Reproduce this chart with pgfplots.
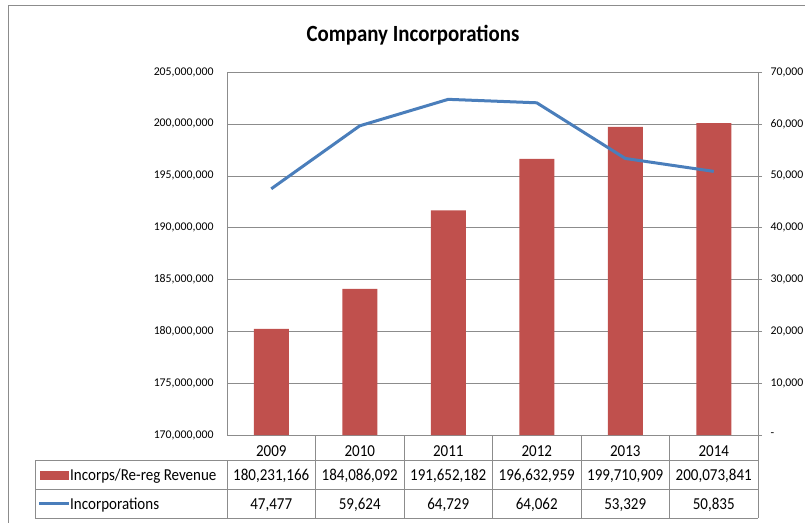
\documentclass[border=0pt]{standalone}
\usepackage{pgfplots}
\pgfplotsset{compat=1.18}
\usepackage{pgfplotstable}
\usepackage{fontspec}
\setmainfont{Carlito}
\newfontfamily\narrowfont[FakeStretch=0.9]{Carlito}

\definecolor{BarRed}{HTML}{C0504D}
\definecolor{LineBlue}{HTML}{4A7EBB}
\definecolor{GridGray}{HTML}{8C8C8C}

% year, revenue (left axis), incorporations (right axis)
\pgfplotstableread{
x year revenue incorps
0 2009 180231166 47477
1 2010 184086092 59624
2 2011 191652182 64729
3 2012 196632959 64062
4 2013 199710909 53329
5 2014 200073841 50835
}\incdata

\newcommand{\tabfont}{\narrowfont\fontsize{16.7}{19}\selectfont}
\newcommand{\tickfont}{\fontsize{11.8}{14}\selectfont}

\begin{document}
\begin{tikzpicture}[x=1pt,y=1pt]
\useasboundingbox (0,0) rectangle (805,-522);
\draw[GridGray] (8,-540) -- (8,-5) -- (840,-5);
\node[anchor=base, font=\narrowfont\bfseries\fontsize{23.2}{26}\selectfont] at (413,-41.7) {Company Incorporations};

\begin{axis}[
  at={(227pt,-435pt)}, anchor=south west,
  scale only axis, width=531pt, height=363pt,
  ybar, bar width=35pt,
  xmin=-0.5, xmax=5.5, ymin=170000000, ymax=205000000,
  axis x line*=bottom, axis y line*=left,
  axis line style={GridGray, -},
  xtick=data, xticklabels={2009,2010,2011,2012,2013,2014},
  x tick style={draw=none},
  xticklabel style={font=\tabfont, anchor=base, yshift=-17pt},
  ytick={170000000,175000000,180000000,185000000,190000000,195000000,200000000,205000000},
  yticklabels={{170,000,000},{175,000,000},{180,000,000},{185,000,000},{190,000,000},{195,000,000},{200,000,000},{205,000,000}},
  scaled y ticks=false,
  y tick style={draw=none},
  yticklabel style={font=\tickfont, anchor=east, xshift=-10pt},
  ymajorgrids, grid style={GridGray},
]
\addplot[fill=BarRed, draw=none] table[x=x, y=revenue]{\incdata};
\end{axis}

\begin{axis}[
  at={(227pt,-435pt)}, anchor=south west,
  scale only axis, width=531pt, height=363pt,
  xmin=-0.5, xmax=5.5, ymin=0, ymax=70000,
  axis x line=none, axis y line*=right,
  axis line style={GridGray, -},
  ytick={0,10000,20000,30000,40000,50000,60000,70000},
  yticklabels={-,{10,000},{20,000},{30,000},{40,000},{50,000},{60,000},{70,000}},
  scaled y ticks=false,
  tick align=outside, major tick length=4pt,
  y tick style={GridGray},
  yticklabel style={font=\tickfont, anchor=west, xshift=5pt},
]
\addplot[LineBlue, line width=3pt, line join=round] table[x=x, y=incorps]{\incdata};
\end{axis}

% data table under the plot
\draw[GridGray] (35,-460.5) -- (758,-460.5);
\draw[GridGray] (35,-489.5) -- (758,-489.5);
\draw[GridGray] (35,-518) -- (758,-518);
\draw[GridGray] (35,-460.5) -- (35,-518);
\draw[GridGray] (227,-460.5) -- (227,-518);
\foreach \k in {1,...,6} \draw[GridGray] (227+88.5*\k,-435) -- (227+88.5*\k,-518);

\fill[BarRed] (40,-470.5) rectangle (69,-479.5);
\draw[LineBlue, line width=3pt] (39,-503.5) -- (69,-503.5);
\node[anchor=base west, inner sep=1pt, font=\tabfont] at (69,-480.7) {Incorps/Re-reg Revenue};
\node[anchor=base west, inner sep=1pt, font=\tabfont] at (69,-509) {Incorporations};

\foreach \v [count=\i from 0] in {{180,231,166},{184,086,092},{191,652,182},{196,632,959},{199,710,909},{200,073,841}}
  \node[anchor=base, font=\tabfont] at (227+88.5*\i+44.25,-480.7) {\v};
\foreach \v [count=\i from 0] in {{47,477},{59,624},{64,729},{64,062},{53,329},{50,835}}
  \node[anchor=base, font=\tabfont] at (227+88.5*\i+44.25,-509) {\v};
\end{tikzpicture}
\end{document}
